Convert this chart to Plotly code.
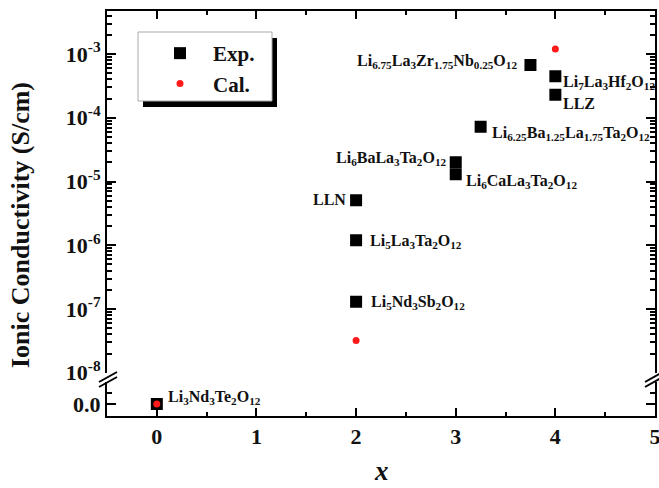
import numpy as np
import plotly.graph_objects as go

# ---------------- data ----------------
exp_labels = [
    "LLN",
    "Li<sub>5</sub>La<sub>3</sub>Ta<sub>2</sub>O<sub>12</sub>",
    "Li<sub>5</sub>Nd<sub>3</sub>Sb<sub>2</sub>O<sub>12</sub>",
    "Li<sub>6</sub>BaLa<sub>3</sub>Ta<sub>2</sub>O<sub>12</sub>",
    "Li<sub>6</sub>CaLa<sub>3</sub>Ta<sub>2</sub>O<sub>12</sub>",
    "Li<sub>6.25</sub>Ba<sub>1.25</sub>La<sub>1.75</sub>Ta<sub>2</sub>O<sub>12</sub>",
    "Li<sub>6.75</sub>La<sub>3</sub>Zr<sub>1.75</sub>Nb<sub>0.25</sub>O<sub>12</sub>",
    "Li<sub>7</sub>La<sub>3</sub>Hf<sub>2</sub>O<sub>12</sub>",
    "LLZ",
]
exp_x = [2, 2, 2, 3, 3, 3.25, 3.75, 4, 4]
exp_sigma = [5.1e-6, 1.2e-6, 1.3e-7, 2.0e-5, 1.3e-5, 7.2e-5, 6.7e-4, 4.5e-4, 2.3e-4]

zero_label = "Li<sub>3</sub>Nd<sub>3</sub>Te<sub>2</sub>O<sub>12</sub>"
exp_zero_x = [0]
exp_zero_sigma = [0.0]

cal_x = [2, 4]
cal_sigma = [3.2e-8, 1.2e-3]
cal_zero_x = [0]
cal_zero_sigma = [0.0]

x_ticks = [0, 1, 2, 3, 4, 5]
y_log_ticks = [1e-8, 1e-7, 1e-6, 1e-5, 1e-4, 1e-3]
y_log_ticktext = ["10<sup>-8</sup>", "10<sup>-7</sup>", "10<sup>-6</sup>",
                  "10<sup>-5</sup>", "10<sup>-4</sup>", "10<sup>-3</sup>"]

# ---------------- styles ----------------
FONT = "Liberation Serif"
INK = "#111111"
# label placement: (xanchor, xshift, yshift) in px, per exp label
label_style = [
    ("right", -8, 1),
    ("left", 12, -1),
    ("left", 13, -1),
    ("right", -7, 4),
    ("left", 8, -7),
    ("left", 9, -7),
    ("right", -11, 4),
    ("left", 6, -6),
    ("left", 6, -9),
]

W, H = 659, 488
L, R, T, B = 107, 4, 11, 72
PW, PH = W - L - R, H - T - B
PLOT_LEFT, PLOT_BOTTOM = L, H - B


def px2paper(px, py):
    """page pixel -> paper coordinates"""
    return (px - PLOT_LEFT) / PW, (PLOT_BOTTOM - py) / PH


up_dom = [(PLOT_BOTTOM - 372.75) / PH, 1.0]
low_dom = [0.0, (PLOT_BOTTOM - 382) / PH]

fig = go.Figure()

sq = dict(symbol="square", size=12, color="black")
dot = dict(symbol="circle", size=7, color="#ff1a1a")

fig.add_trace(go.Scatter(x=exp_x, y=exp_sigma, mode="markers", marker=sq,
                         name="Exp.", xaxis="x2", yaxis="y"))
fig.add_trace(go.Scatter(x=cal_x, y=cal_sigma, mode="markers", marker=dot,
                         name="Cal.", xaxis="x2", yaxis="y"))
fig.add_trace(go.Scatter(x=exp_zero_x, y=exp_zero_sigma, mode="markers",
                         marker=dict(symbol="square", size=12, color="black"),
                         showlegend=False, xaxis="x", yaxis="y2"))
fig.add_trace(go.Scatter(x=cal_zero_x, y=cal_zero_sigma, mode="markers", marker=dot,
                         showlegend=False, xaxis="x", yaxis="y2"))

lab_font = dict(family=FONT, size=16, color=INK, weight="bold")
for lbl, xv, sv, (xa, xs, ys) in zip(exp_labels, exp_x, exp_sigma, label_style):
    fig.add_annotation(x=xv, y=np.log10(sv), xref="x2", yref="y", text=lbl,
                       showarrow=False, xanchor=xa, yanchor="middle",
                       xshift=xs, yshift=ys, font=lab_font)
fig.add_annotation(x=exp_zero_x[0], y=exp_zero_sigma[0], xref="x", yref="y2",
                   text=zero_label, showarrow=False, xanchor="left",
                   yanchor="middle", xshift=9, yshift=7, font=lab_font)

# axis titles (y title spans the broken axis, centred like the reference)
tx, ty = px2paper(21, 225)
fig.add_annotation(x=tx, y=ty, xref="paper", yref="paper", text="Ionic Conductivity (S/cm)",
                   textangle=-90, showarrow=False, xanchor="center", yanchor="middle",
                   font=dict(family=FONT, size=26, color=INK, weight="bold"))
tx, ty = px2paper(381, 487)
fig.add_annotation(x=tx, y=ty, xref="paper", yref="paper", text="<i>x</i>",
                   showarrow=False, xanchor="center", yanchor="bottom", borderpad=0,
                   font=dict(family=FONT, size=27, color=INK, weight="bold"))

axis_common = dict(showline=True, linecolor="black", linewidth=2, ticks="inside",
                   tickcolor="black", tickwidth=2, showgrid=False, zeroline=False,
                   automargin=False,
                   tickfont=dict(family=FONT, size=22, color=INK, weight="bold"))

X_RANGE = [-0.5, 5.0]

fig.update_layout(
    width=W, height=H,
    margin=dict(l=L, r=R, t=T, b=B, autoexpand=False),
    paper_bgcolor="white", plot_bgcolor="white",
    font=dict(family=FONT, color=INK, weight="bold"),
    xaxis=dict(**axis_common, anchor="y2", domain=[0, 1], range=X_RANGE,
               tickvals=x_ticks, ticklen=8, ticklabeloverflow="allow",
               minor=dict(ticks="inside", ticklen=4, tickwidth=2, dtick=0.5, tickcolor="black")),
    xaxis2=dict(**axis_common, anchor="y", matches="x", domain=[0, 1], range=X_RANGE,
                side="top", showticklabels=False, tickvals=x_ticks, ticklen=8,
                minor=dict(ticks="inside", ticklen=4, tickwidth=2, dtick=0.5, tickcolor="black")),
    yaxis=dict(**axis_common, type="log", anchor="x", domain=up_dom,
               range=[-8, -2.325], tickvals=y_log_ticks, ticktext=y_log_ticktext,
               ticklen=9, mirror="ticks",
               minor=dict(ticks="inside", ticklen=5, tickwidth=1.5, tickcolor="black",
                          tickvals=[k * 10.0 ** e for e in range(-8, -2) for k in range(2, 10)])),
    yaxis2=dict(**axis_common, anchor="x", domain=low_dom, range=[-1.09, 2.0],
                tickvals=[0], ticktext=["0.0"], ticklen=9, mirror="ticks",
                minor=dict(ticks="inside", ticklen=5, tickwidth=1.5, tickcolor="black",
                           tickvals=[1, 2])),
    legend=dict(x=px2paper(147, 33)[0], y=px2paper(147, 33)[1], xanchor="left", yanchor="top",
                bgcolor="rgba(0,0,0,0)", borderwidth=0,
                font=dict(family=FONT, size=21, color=INK, weight="bold"),
                itemwidth=56, tracegroupgap=0),
    showlegend=True,
)

# legend frame with drop shadow
x0, y1 = px2paper(143, 38)
x1, y0 = px2paper(277, 107)
fig.add_shape(type="rect", xref="paper", yref="paper", x0=x0, x1=x1, y0=y0, y1=y1,
              fillcolor="black", line=dict(width=0), layer="above")
x0, y1 = px2paper(138, 32)
x1, y0 = px2paper(272, 101)
fig.add_shape(type="rect", xref="paper", yref="paper", x0=x0, x1=x1, y0=y0, y1=y1,
              fillcolor="white", line=dict(width=1, color="#aaaaaa"), layer="above")

# axis break marks
for cx in (108, 654):
    for dy in (0, 5):
        a = px2paper(cx - 9, 382 + dy)
        b = px2paper(cx + 9, 372 + dy)
        fig.add_shape(type="line", xref="paper", yref="paper", x0=a[0], y0=a[1],
                      x1=b[0], y1=b[1], line=dict(color="black", width=2))

fig.write_html(
    "out.html",
    config={"displayModeBar": False},
    post_script="document.body.style.margin='0';document.body.style.overflow='hidden';",
)
